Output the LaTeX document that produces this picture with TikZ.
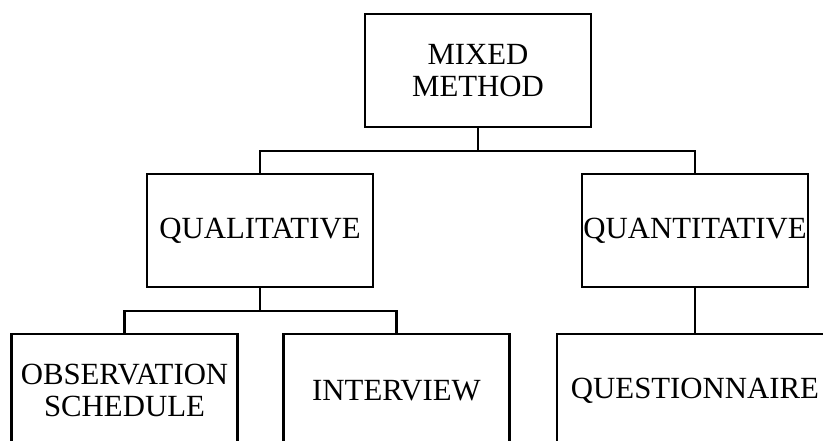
\documentclass[tikz,border=0pt]{standalone}
\usepackage{fontspec}
\setmainfont{Liberation Serif}
\begin{document}
\begin{tikzpicture}[x=1pt, y=-1pt,
  box/.style={draw, line width=2.5pt, rectangle, minimum width=226pt,
    minimum height=113pt, align=center, inner sep=0pt,
    font=\fontsize{30.8}{31.5}\selectfont},
  link/.style={draw, line width=2.5pt}]
  \useasboundingbox (0,0) rectangle (823,441);
  \clip (0,0) rectangle (823,441);

  % boxes
  \node[box] (mix)   at (478,70.5)   {MIXED\\METHOD};
  \node[box] (qual)  at (260,230.5)  {QUALITATIVE};
  \node[box] (quant) at (695,230.5)  {QUANTITATIVE};
  \node[box] (obs)   at (124.5,390.5) {OBSERVATION\\SCHEDULE};
  \node[box] (intv)  at (396.5,390.5) {INTERVIEW};
  \node[box, minimum width=276pt] (quest) at (695,390.5) {QUESTIONNAIRE};

  % junction points of the brackets
  \coordinate (jtop) at (mix.south |- 0,151);
  \coordinate (jqual) at (qual.south |- 0,311);

  % connectors
  \path[link] (mix.south) -- (jtop);
  \path[link] (qual.north) |- (jtop) -| (quant.north);
  \path[link] (qual.south) -- (jqual);
  \path[link] (obs.north) |- (jqual) -| (intv.north);
  \path[link] (quant.south) -- (quest.north);
\end{tikzpicture}
\end{document}
